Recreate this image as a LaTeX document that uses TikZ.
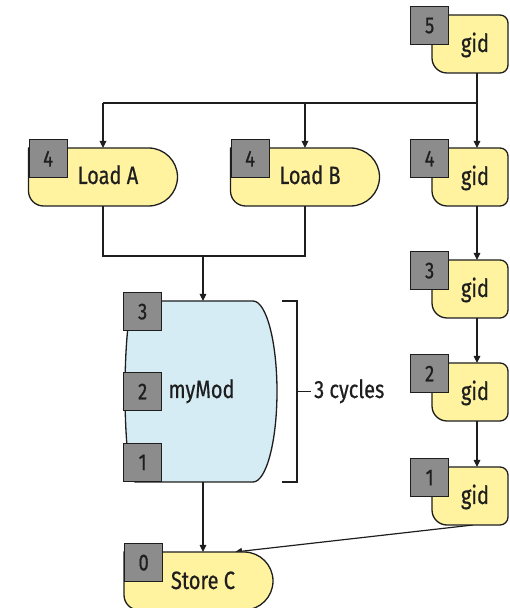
\documentclass[tikz,border=0pt]{standalone}
\usepackage{fontspec}
\setmainfont[FakeStretch=0.8, FakeBold=0.6]{Fira Sans}
\usetikzlibrary{arrows.meta,calc}
\definecolor{boxyellow}{RGB}{255,243,160}
\definecolor{modblue}{RGB}{213,236,244}
\definecolor{stagegray}{RGB}{140,140,140}
\definecolor{ink}{RGB}{30,30,30}

% outline of a load/store unit: square top-left, round right end
\newcommand\unitoutline[1]{%
  \draw[shapeline, fill=boxyellow] (#1.north west) -- ([xshift=-29pt]#1.north east)
    arc[start angle=90, end angle=-90, radius=29pt]
    -- ([xshift=15pt]#1.south west)
    arc[start angle=270, end angle=180, radius=15pt] -- cycle;}
% outline of a gid stage
\newcommand\gidoutline[1]{%
  \draw[shapeline, fill=boxyellow] (#1.north west) -- ([xshift=-8pt]#1.north east)
    arc[start angle=90, end angle=0, radius=8pt]
    -- ([yshift=8pt]#1.south east)
    arc[start angle=0, end angle=-90, radius=8pt]
    -- ([xshift=15pt]#1.south west)
    arc[start angle=270, end angle=180, radius=15pt] -- cycle;}

\begin{document}
\begin{tikzpicture}[x=1pt, y=1pt,
  region/.style={inner sep=0pt, outer sep=0pt},
  unitbox/.style={region, minimum width=149pt, minimum height=58pt},
  gidbox/.style={region, minimum width=76pt, minimum height=58pt},
  shapeline/.style={draw=ink, line width=1.3pt},
  wire/.style={draw=ink, line width=1.2pt},
  arr/.style={wire, -{Triangle[length=7pt, width=6.5pt]}},
  lbl/.style={font=\fontsize{25}{30}\selectfont, text=ink, anchor=base, inner sep=0pt},
  numbox/.style={draw=ink, fill=stagegray, line width=1.3pt, minimum size=38pt,
    inner sep=0pt, font=\fontsize{23}{27}\selectfont, text=ink}
]
\useasboundingbox (0,0) rectangle (510,608);

% unit regions
\node[unitbox] (la) at (103,431) {};
\node[unitbox] (lb) at (305,431) {};
\node[unitbox] (sc) at (198.5,27) {};
\node[gidbox] (g5) at (470,564) {};
\node[gidbox] (g4) at (470,431) {};
\node[gidbox] (g3) at (470,319) {};
\node[gidbox] (g2) at (470,216) {};
\node[gidbox] (g1) at (470,112) {};
\node[region, minimum width=148pt, minimum height=181pt] (mm) at (203,216.5) {};

\coordinate (col) at (477,0);
\coordinate (split) at (477,505);
\coordinate (merge) at (203,352);
\coordinate (scin) at ([xshift=36.5pt]sc.north);

% connectors
\draw[wire] (g5.south -| col) -- (split) -- (la.north |- split);
\draw[arr] (la.north |- split) -- (la.north);
\draw[arr] (lb.north |- split) -- (lb.north);
\draw[arr] (split) -- (g4.north -| col);
\draw[arr] (g4.south -| col) -- (g3.north -| col);
\draw[arr] (g3.south -| col) -- (g2.north -| col);
\draw[arr] (g2.south -| col) -- (g1.north -| col);
\draw[wire] (la.south) |- (lb.south |- merge) -- (lb.south);
\draw[arr] (merge) -- (mm.north);
\draw[arr] (mm.south) -- (mm.south |- sc.north);
\draw[arr] ([xshift=3pt]g1.south) -- (scin);

% shapes
\unitoutline{la}
\unitoutline{lb}
\unitoutline{sc}
\gidoutline{g5}
\gidoutline{g4}
\gidoutline{g3}
\gidoutline{g2}
\gidoutline{g1}
\draw[shapeline, fill=modblue] ([xshift=6pt]mm.north west) -- ([xshift=-24pt]mm.north east)
  arc[start angle=90, end angle=-90, x radius=24pt, y radius=90.5pt]
  -- ([xshift=6pt]mm.south west)
  arc[start angle=-90, end angle=-270, x radius=10pt, y radius=90.5pt] -- cycle;

% cycle bracket
\draw[wire] ([xshift=5pt]mm.north east) -- ([xshift=20pt]mm.north east)
  -- ([xshift=20pt]mm.south east) -- ([xshift=5pt]mm.south east);
\draw[wire] ([xshift=20pt]mm.east) -- ([xshift=34pt]mm.east);
\node[lbl, anchor=base west] (cyc) at ([xshift=37pt, yshift=-6.5pt]mm.east) {3 cycles};

% stage numbers
\node[numbox, anchor=north west] (la-n) at ([yshift=9pt]la.north west) {4};
\node[numbox, anchor=north west] (lb-n) at ([yshift=9pt]lb.north west) {4};
\node[numbox, anchor=north west] (sc-n) at ([yshift=9pt]sc.north west) {0};
\node[numbox, anchor=north west] (g5-n) at ([xshift=-22pt, yshift=9pt]g5.north west) {5};
\node[numbox, anchor=north west] (g4-n) at ([xshift=-22pt, yshift=9pt]g4.north west) {4};
\node[numbox, anchor=north west] (g3-n) at ([xshift=-22pt, yshift=9pt]g3.north west) {3};
\node[numbox, anchor=north west] (g2-n) at ([xshift=-22pt, yshift=9pt]g2.north west) {2};
\node[numbox, anchor=north west] (g1-n) at ([xshift=-22pt, yshift=9pt]g1.north west) {1};
\node[numbox, anchor=north west] (mm-n3) at ([xshift=-6pt, yshift=9pt]mm.north west) {3};
\node[numbox, anchor=west] (mm-n2) at ([xshift=-6pt]mm.west) {2};
\node[numbox, anchor=south west] (mm-n1) at ([xshift=-6pt]mm.south west) {1};

% labels
\node[lbl] (la-t) at ([xshift=5pt, yshift=-7pt]la.center) {Load A};
\node[lbl] (lb-t) at ([xshift=5pt, yshift=-7pt]lb.center) {Load B};
\node[lbl] (sc-t) at ([xshift=4.5pt, yshift=-8pt]sc.center) {Store C};
\node[lbl] (g5-t) at ([xshift=5pt, yshift=-8pt]g5.center) {gid};
\node[lbl] (g4-t) at ([xshift=5pt, yshift=-8pt]g4.center) {gid};
\node[lbl] (g3-t) at ([xshift=5pt, yshift=-8pt]g3.center) {gid};
\node[lbl] (g2-t) at ([xshift=5pt, yshift=-8pt]g2.center) {gid};
\node[lbl] (g1-t) at ([xshift=5pt, yshift=-8pt]g1.center) {gid};
\node[lbl] (mm-t) at ([xshift=-1.5pt, yshift=-6.5pt]mm.center) {myMod};
\end{tikzpicture}
\end{document}
